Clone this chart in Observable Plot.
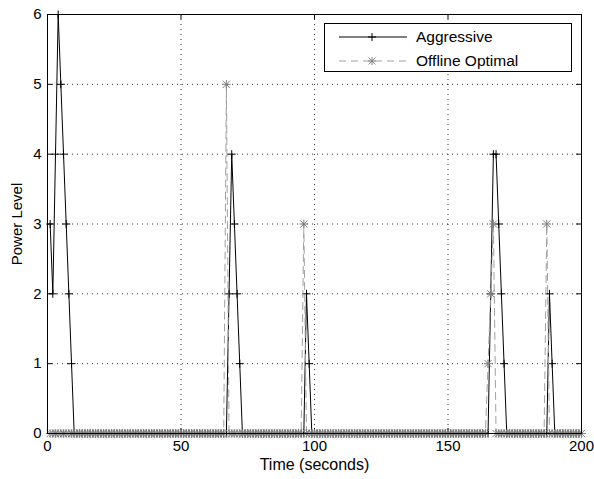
<!DOCTYPE html>
<html>
<head>
<meta charset="utf-8">
<script src="https://cdn.jsdelivr.net/npm/d3@7"></script>
<script src="https://cdn.jsdelivr.net/npm/@observablehq/plot@0.6"></script>
<style>
  html, body { margin: 0; padding: 0; background: white; }
  #wrap { position: relative; width: 594px; height: 479px; }
  #legend {
    position: absolute; left: 324px; top: 23px; width: 248px; height: 49px;
    background: white; border: 1px solid black; box-sizing: border-box;
    font-family: "Liberation Sans", Arial, sans-serif; font-size: 15.5px;
  }
  #legend .row { position: absolute; left: 0; height: 20px; display: flex; align-items: center; }
  #legend svg { display: block; }
  #legend span { margin-left: 8px; }
</style>
</head>
<body>
<div id="wrap"></div>
<script>
// Time samples (seconds)
const times = d3.range(1, 201);
// Nonzero power levels: [time, level]; all other samples are 0
const aggressiveLevels = [
  [1, 3], [2, 2], [3, 4], [4, 6], [5, 5], [6, 4], [7, 3], [8, 2], [9, 1],
  [68, 2], [69, 4], [70, 3], [71, 2], [72, 1],
  [97, 2], [98, 1],
  [166, 2], [167, 4], [168, 4], [169, 3], [170, 2], [171, 1],
  [188, 2], [189, 1]
];
const offlineLevels = [
  [67, 5],
  [96, 3],
  [165, 1], [166, 2], [167, 3],
  [187, 3]
];
const seriesNames = ["Aggressive", "Offline Optimal"];
const xTicks = [0, 50, 100, 150, 200];
const yTicks = [0, 1, 2, 3, 4, 5, 6];

function buildSeries(levels) {
  const m = new Map(levels);
  return times.map(t => ({t, v: m.has(t) ? m.get(t) : 0}));
}
const aggressive = buildSeries(aggressiveLevels);
const offline = buildSeries(offlineLevels);

const black = "#000";
const gray = "#808080";
const dashGray = "#a0a0a0";

const chart = Plot.plot({
  width: 594,
  height: 479,
  marginLeft: 47,
  marginRight: 13,
  marginTop: 14,
  marginBottom: 46,
  style: {fontFamily: "'Liberation Sans', Arial, sans-serif", fontSize: "15px", background: "white", color: "black"},
  x: {domain: [0, 200]},
  y: {domain: [0, 6]},
  marks: [
    Plot.gridX(xTicks.slice(1, -1), {stroke: black, strokeOpacity: 0.8, strokeDasharray: "1,4"}),
    Plot.gridY(yTicks.slice(1, -1), {stroke: black, strokeOpacity: 0.8, strokeDasharray: "1,4"}),
    Plot.tickX(xTicks, {x: d => d, insetTop: 414, stroke: black}),
    Plot.tickX(xTicks, {x: d => d, insetBottom: 414, stroke: black}),
    Plot.tickY(yTicks, {y: d => d, insetRight: 529, stroke: black}),
    Plot.tickY(yTicks, {y: d => d, insetLeft: 529, stroke: black}),
    Plot.axisX(xTicks, {tickSize: 0, tickPadding: 7, tickFormat: d3.format("d"), label: null}),
    Plot.axisY(yTicks, {tickSize: 0, tickPadding: 6, tickFormat: d3.format("d"), label: null}),
    Plot.axisX({ticks: [], label: "Time (seconds)", labelAnchor: "center", labelOffset: 36, labelArrow: "none", fontSize: 16}),
    Plot.axisY({ticks: [], label: "Power Level", labelAnchor: "center", labelOffset: 36, labelArrow: "none", fontSize: 15}),
    Plot.line(aggressive, {x: "t", y: "v", stroke: black, strokeWidth: 1}),
    Plot.dot(aggressive, {x: "t", y: "v", symbol: "plus", r: 2.7, stroke: black, strokeWidth: 1}),
    Plot.line(offline, {x: "t", y: "v", stroke: dashGray, strokeWidth: 1, strokeDasharray: "7,5"}),
    Plot.dot(offline, {x: "t", y: "v", symbol: "plus", r: 2.9, stroke: gray, strokeWidth: 1}),
    Plot.dot(offline, {x: "t", y: "v", symbol: "times", r: 3.4, stroke: gray, strokeWidth: 1}),
    Plot.frame({stroke: black})
  ]
});

const wrap = document.getElementById("wrap");
wrap.appendChild(chart);

// Legend (inside plot area, top right)
const legend = document.createElement("div");
legend.id = "legend";
const styles = [
  {stroke: black, dash: null, marks: ["plus"]},
  {stroke: dashGray, mstroke: gray, dash: "7,5", marks: ["plus", "times"]}
];
seriesNames.forEach((name, i) => {
  const row = document.createElement("div");
  row.className = "row";
  row.style.left = "13px";
  row.style.top = (3 + i * 24) + "px";
  const s = styles[i];
  const sym = {plus: d3.symbolPlus, times: d3.symbolTimes};
  const paths = s.marks.map(m => `<path transform="translate(34,10)" d="${d3.symbol(sym[m], m === "plus" ? 23 : 32)()}" fill="none" stroke="${s.mstroke || s.stroke}"/>`).join("");
  row.innerHTML = `<svg width="70" height="20"><line x1="1" y1="10" x2="69" y2="10" stroke="${s.stroke}" ${s.dash ? `stroke-dasharray="${s.dash}"` : ""}/>${paths}</svg><span>${name}</span>`;
  legend.appendChild(row);
});
wrap.appendChild(legend);
</script>
</body>
</html>
